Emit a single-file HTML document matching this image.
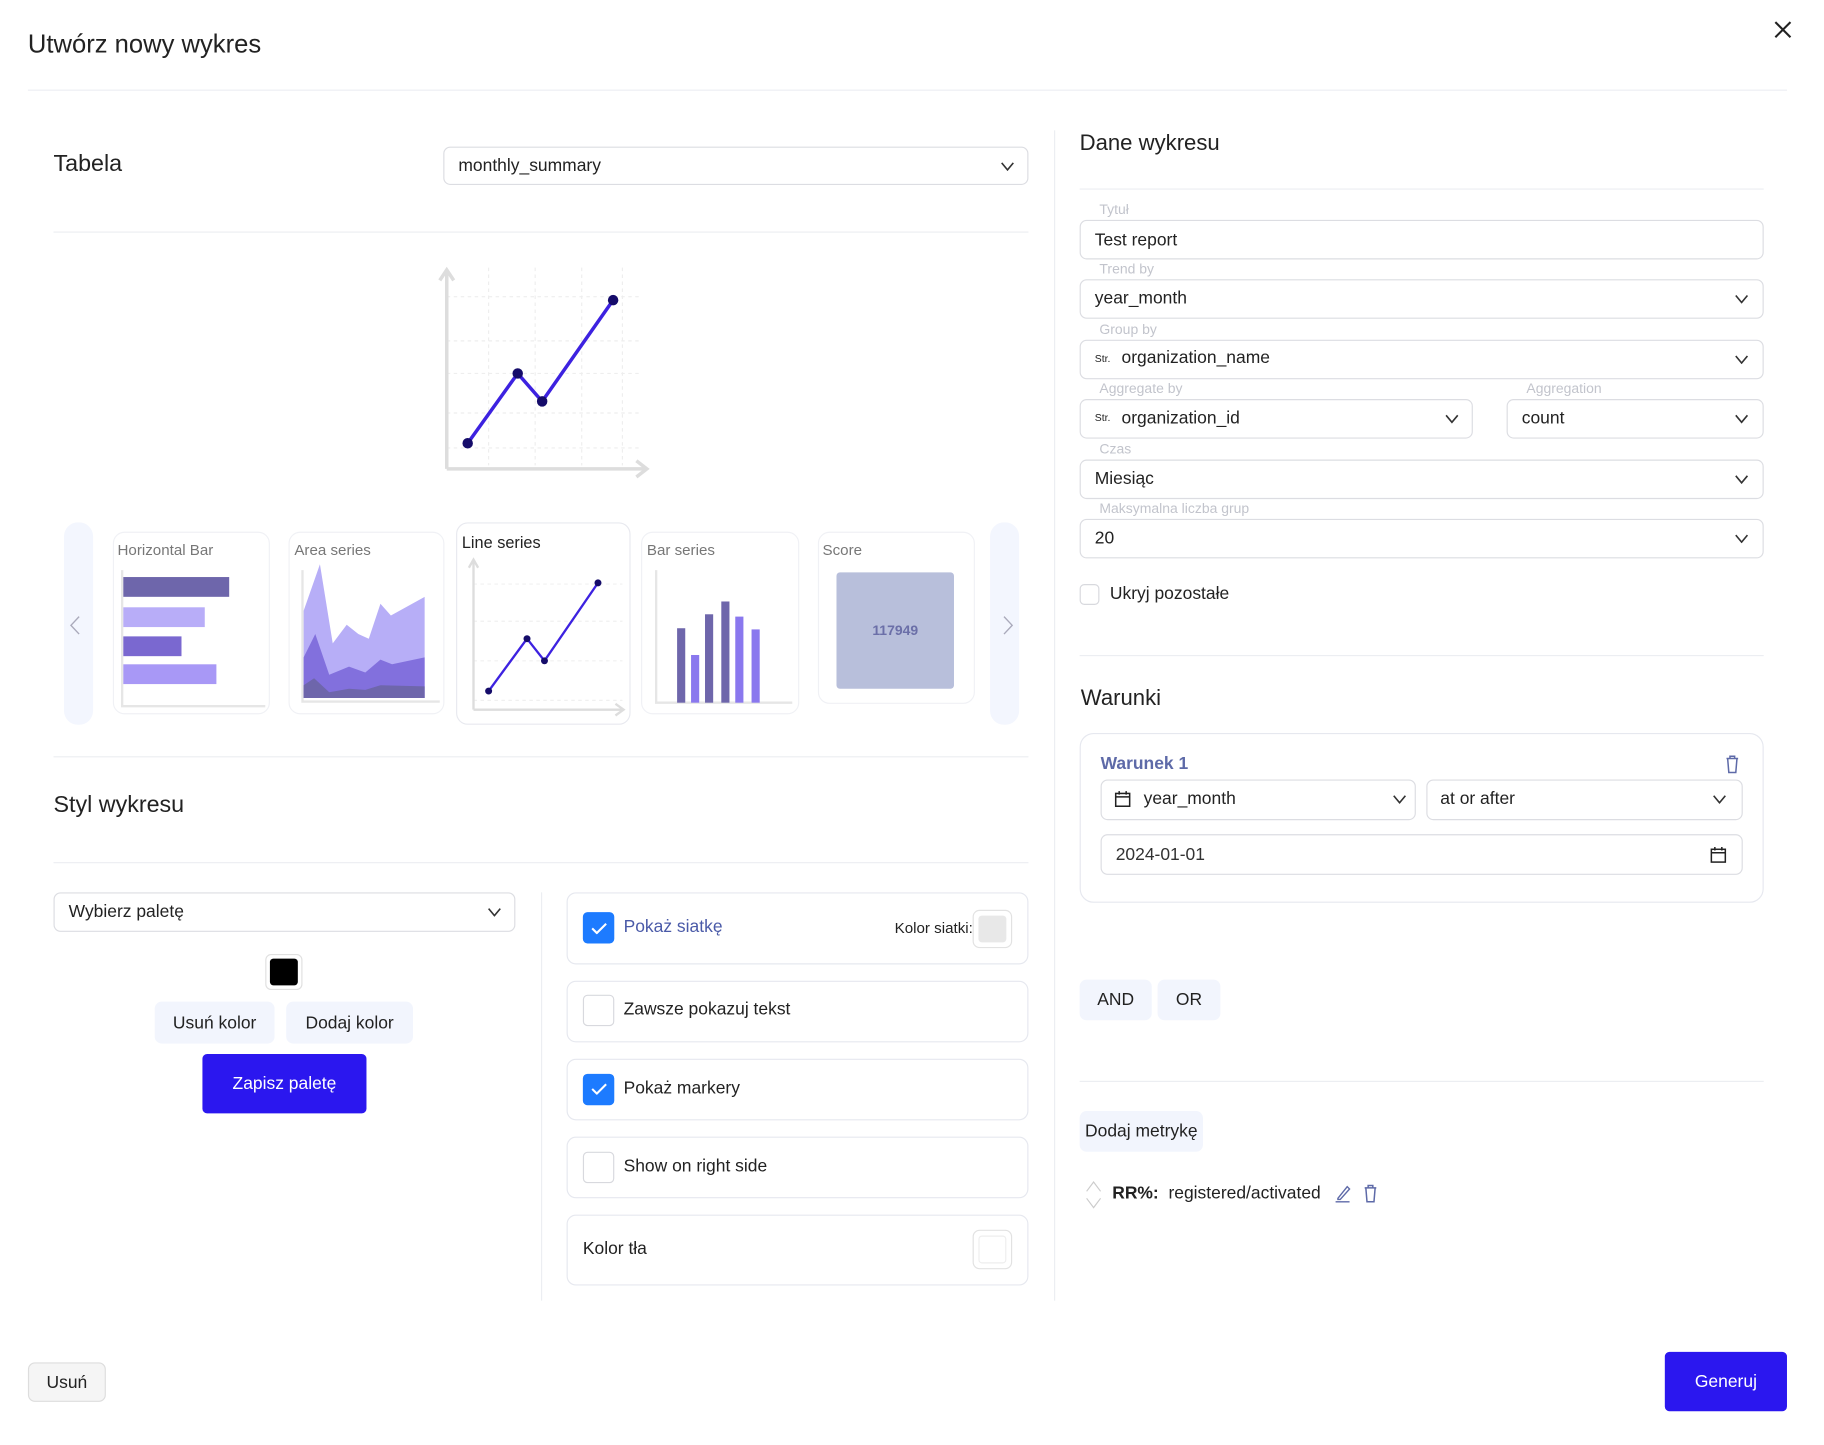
<!DOCTYPE html>
<html><head><meta charset="utf-8">
<style>
*{box-sizing:border-box;margin:0;padding:0}
html,body{width:1824px;height:1444px;overflow:hidden;background:#fff}
#s{position:absolute;left:0;top:0;width:1570px;height:1242px;transform:scale(1.1634);transform-origin:0 0;font-family:"Liberation Sans",sans-serif;color:#222}
.a{position:absolute}
.hr{position:absolute;height:1px;background:#eceef2}
.box{position:absolute;border:1px solid #dcdde2;border-radius:6px;background:#fff}
.t{position:absolute;white-space:nowrap}
.lbl{position:absolute;font-size:12px;color:#c2c4cc}
.fv{position:absolute;font-size:15px;color:#222;white-space:nowrap}
.chev{position:absolute;width:12px;height:8px}
.card{position:absolute;border:1px solid #f0f1f5;border-radius:10px;background:#fff}
.ob{position:absolute;left:487px;width:397px;border:1px solid #e6e8ef;border-radius:8px}
.cb{position:absolute;width:27px;height:27px;border-radius:4px;border:1px solid #d8d9de;background:#fff}
.cb.on{background:#1d7bff;border-color:#1d7bff}
.btn{position:absolute;border-radius:6px;background:#f2f5fd;font-size:15px;display:flex;align-items:center;justify-content:center;color:#222}
</style></head><body><div id="s">
<svg width="0" height="0" style="position:absolute"><defs><symbol id="cv" viewBox="0 0 12 8"><polyline points="1,1 6,7 11,1" fill="none" stroke="#333" stroke-width="1.4"/></symbol></defs></svg>

<div class="t" style="left:24px;top:25px;font-size:22px;color:#222">Utwórz nowy wykres</div>
<svg class="a" style="left:1525px;top:18px" width="15" height="15"><path d="M1 1L14 14M14 1L1 14" stroke="#222" stroke-width="1.8"/></svg>
<div class="hr" style="left:24px;top:77px;width:1512px"></div>

<div class="t" style="left:46px;top:130px;font-size:20px">Tabela</div>
<div class="box" style="left:381px;top:126px;width:503px;height:33px"></div>
<div class="fv" style="left:394px;top:134px">monthly_summary</div>
<svg class="chev" style="left:860px;top:139px"><use href="#cv"/></svg>
<div class="hr" style="left:46px;top:199px;width:838px"></div>

<svg class="a" style="left:370px;top:225px" width="200" height="190">
<g stroke="#eee" stroke-dasharray="3,3">
<line x1="14" y1="30" x2="180" y2="30"/><line x1="14" y1="68" x2="180" y2="68"/><line x1="14" y1="96" x2="180" y2="96"/><line x1="14" y1="130" x2="180" y2="130"/><line x1="14" y1="160" x2="180" y2="160"/>
<line x1="50" y1="5" x2="50" y2="175"/><line x1="90" y1="5" x2="90" y2="175"/><line x1="130" y1="5" x2="130" y2="175"/><line x1="165" y1="5" x2="165" y2="175"/>
</g>
<path d="M14 178V8M8 16L14 7L20 16M14 178H185M177 171L186 178L177 185" stroke="#ddd" stroke-width="3" fill="none"/>
<polyline points="32,156 75,96 96,120 157,33" fill="none" stroke="#3d22e0" stroke-width="3"/>
<g fill="#150c6a"><circle cx="32" cy="156" r="4.5"/><circle cx="75" cy="96" r="4.5"/><circle cx="96" cy="120" r="4.5"/><circle cx="157" cy="33" r="4.5"/></g>
</svg>

<div class="a" style="left:55px;top:449px;width:25px;height:174px;border-radius:12px;background:#f3f6fe"></div>
<svg class="a" style="left:58px;top:529px" width="12" height="17"><polyline points="10,1 3,8.5 10,16" fill="none" stroke="#aab" stroke-width="1.2"/></svg>
<div class="a" style="left:851px;top:449px;width:25px;height:174px;border-radius:12px;background:#f3f6fe"></div>
<svg class="a" style="left:861px;top:529px" width="12" height="17"><polyline points="2,1 9,8.5 2,16" fill="none" stroke="#aab" stroke-width="1.2"/></svg>

<div class="card" style="left:97px;top:457px;width:135px;height:157px"></div>
<div class="t" style="left:101px;top:465px;font-size:13px;color:#777">Horizontal Bar</div>
<svg class="a" style="left:100px;top:485px" width="130" height="125">
<path d="M5 5V122H128" stroke="#e6e6e6" stroke-width="2" fill="none"/>
<rect x="6" y="11" width="91" height="17" fill="#6e66ab"/><rect x="6" y="37" width="70" height="17" fill="#b8adf8"/><rect x="6" y="62" width="50" height="17" fill="#7a68d0"/><rect x="6" y="86" width="80" height="17" fill="#a898f6"/>
</svg>

<div class="card" style="left:248px;top:457px;width:134px;height:157px"></div>
<div class="t" style="left:253px;top:465px;font-size:13px;color:#777">Area series</div>
<svg class="a" style="left:250px;top:485px" width="132" height="125">
<path d="M10 5V118H128" stroke="#e6e6e6" stroke-width="2" fill="none"/>
<path d="M11 40L25 0L36 68L48 52L58 60L67 64L77 34L86 44L115 28V115H11Z" fill="#b7aef7"/>
<path d="M11 80L21 60L33 95L50 88L64 93L77 82L87 86L115 80V115H11Z" fill="#8270dd"/>
<path d="M11 104L20 98L33 110L50 107L64 108L77 104L115 105V115H11Z" fill="#6e66ab"/>
</svg>

<div class="card" style="left:392px;top:449px;width:150px;height:174px;border-color:#e8e9ef"></div>
<div class="t" style="left:397px;top:458px;font-size:14px;color:#222">Line series</div>
<svg class="a" style="left:395px;top:478px" width="145" height="140">
<g stroke="#f0f0f0" stroke-dasharray="3,3"><line x1="12" y1="24" x2="140" y2="24"/><line x1="12" y1="56" x2="140" y2="56"/><line x1="12" y1="90" x2="140" y2="90"/><line x1="12" y1="124" x2="140" y2="124"/></g>
<path d="M12 132V4M8 10L12 3L16 10M12 132H140M134 127L141 132L134 137" stroke="#ddd" stroke-width="2" fill="none"/>
<polyline points="25,116 58,71 73,90 119,23" fill="none" stroke="#3d22e0" stroke-width="2"/>
<g fill="#150c6a"><circle cx="25" cy="116" r="3"/><circle cx="58" cy="71" r="3"/><circle cx="73" cy="90" r="3"/><circle cx="119" cy="23" r="3"/></g>
</svg>

<div class="card" style="left:551px;top:457px;width:136px;height:157px"></div>
<div class="t" style="left:556px;top:465px;font-size:13px;color:#777">Bar series</div>
<svg class="a" style="left:553px;top:485px" width="134" height="125">
<path d="M11 5V119H128" stroke="#e6e6e6" stroke-width="2" fill="none"/>
<rect x="29" y="55" width="7" height="64" fill="#6e66ab"/><rect x="41" y="78" width="7" height="41" fill="#8a78ee"/><rect x="53" y="43" width="7" height="76" fill="#6e66ab"/><rect x="67" y="32" width="7" height="87" fill="#6e66ab"/><rect x="79" y="45" width="7" height="74" fill="#8a78ee"/><rect x="93" y="56" width="7" height="63" fill="#8a78ee"/>
</svg>

<div class="card" style="left:703px;top:457px;width:135px;height:148px"></div>
<div class="t" style="left:707px;top:465px;font-size:13px;color:#777">Score</div>
<div class="a" style="left:719px;top:492px;width:101px;height:100px;background:#b8bfdb;border-radius:3px;display:flex;align-items:center;justify-content:center;font-size:12px;font-weight:bold;color:#6b6fa8">117949</div>

<div class="hr" style="left:46px;top:650px;width:838px"></div>
<div class="t" style="left:46px;top:681px;font-size:20px">Styl wykresu</div>
<div class="hr" style="left:46px;top:741px;width:838px"></div>

<div class="box" style="left:46px;top:767px;width:397px;height:34px"></div>
<div class="fv" style="left:59px;top:775px">Wybierz paletę</div>
<svg class="chev" style="left:419px;top:780px"><use href="#cv"/></svg>
<div class="a" style="left:228px;top:820px;width:32px;height:31px;border:1px solid #e0e0e0;border-radius:5px;padding:3px"><div style="width:100%;height:100%;background:#000;border-radius:3px"></div></div>
<div class="btn" style="left:133px;top:861px;width:103px;height:36px">Usuń kolor</div>
<div class="btn" style="left:246px;top:861px;width:109px;height:36px">Dodaj kolor</div>
<div class="btn" style="left:174px;top:906px;width:141px;height:51px;background:#2b17ef;color:#fff;border-radius:4px">Zapisz paletę</div>

<div class="a" style="left:465px;top:767px;width:1px;height:351px;background:#eceef2"></div>

<div class="ob" style="top:767px;height:62px"></div>
<div class="cb on" style="left:501px;top:784px"></div>
<svg class="a" style="left:508px;top:793px" width="14" height="10"><polyline points="1,5 5,9 13,1" fill="none" stroke="#fff" stroke-width="1.8"/></svg>
<div class="fv" style="left:536px;top:788px;color:#4a5aa8">Pokaż siatkę</div>
<div class="t" style="left:769px;top:790px;font-size:13px">Kolor siatki:</div>
<div class="a" style="left:836px;top:782px;width:34px;height:33px;border:1px solid #e2e2e2;border-radius:6px;padding:4px"><div style="width:100%;height:100%;background:#e8e8e8;border-radius:3px"></div></div>

<div class="ob" style="top:843px;height:53px"></div>
<div class="cb" style="left:501px;top:855px"></div>
<div class="fv" style="left:536px;top:859px">Zawsze pokazuj tekst</div>

<div class="ob" style="top:910px;height:53px"></div>
<div class="cb on" style="left:501px;top:923px"></div>
<svg class="a" style="left:508px;top:931px" width="14" height="10"><polyline points="1,5 5,9 13,1" fill="none" stroke="#fff" stroke-width="1.8"/></svg>
<div class="fv" style="left:536px;top:927px">Pokaż markery</div>

<div class="ob" style="top:977px;height:53px"></div>
<div class="cb" style="left:501px;top:990px"></div>
<div class="fv" style="left:536px;top:994px">Show on right side</div>

<div class="ob" style="top:1044px;height:61px"></div>
<div class="fv" style="left:501px;top:1065px">Kolor tła</div>
<div class="a" style="left:836px;top:1057px;width:34px;height:34px;border:1px solid #e2e2e2;border-radius:6px;padding:4px"><div style="width:100%;height:100%;border:1px solid #eee;border-radius:3px"></div></div>

<div class="a" style="left:906px;top:112px;width:1px;height:1006px;background:#eceef2"></div>

<div class="t" style="left:928px;top:113px;font-size:19px">Dane wykresu</div>
<div class="hr" style="left:928px;top:162px;width:588px"></div>

<div class="lbl" style="left:945px;top:173px">Tytuł</div>
<div class="box" style="left:928px;top:189px;width:588px;height:34px"></div>
<div class="fv" style="left:941px;top:198px">Test report</div>

<div class="lbl" style="left:945px;top:224px">Trend by</div>
<div class="box" style="left:928px;top:240px;width:588px;height:34px"></div>
<div class="fv" style="left:941px;top:248px">year_month</div>
<svg class="chev" style="left:1491px;top:253px"><use href="#cv"/></svg>

<div class="lbl" style="left:945px;top:276px">Group by</div>
<div class="box" style="left:928px;top:292px;width:588px;height:34px"></div>
<div class="t" style="left:941px;top:303px;font-size:9px">Str.</div>
<div class="fv" style="left:964px;top:299px">organization_name</div>
<svg class="chev" style="left:1491px;top:305px"><use href="#cv"/></svg>

<div class="lbl" style="left:945px;top:327px">Aggregate by</div>
<div class="box" style="left:928px;top:343px;width:338px;height:34px"></div>
<div class="t" style="left:941px;top:354px;font-size:9px">Str.</div>
<div class="fv" style="left:964px;top:351px">organization_id</div>
<svg class="chev" style="left:1242px;top:356px"><use href="#cv"/></svg>
<div class="lbl" style="left:1312px;top:327px">Aggregation</div>
<div class="box" style="left:1295px;top:343px;width:221px;height:34px"></div>
<div class="fv" style="left:1308px;top:351px">count</div>
<svg class="chev" style="left:1491px;top:356px"><use href="#cv"/></svg>

<div class="lbl" style="left:945px;top:379px">Czas</div>
<div class="box" style="left:928px;top:395px;width:588px;height:34px"></div>
<div class="fv" style="left:941px;top:403px">Miesiąc</div>
<svg class="chev" style="left:1491px;top:408px"><use href="#cv"/></svg>

<div class="lbl" style="left:945px;top:430px">Maksymalna liczba grup</div>
<div class="box" style="left:928px;top:446px;width:588px;height:34px"></div>
<div class="fv" style="left:941px;top:454px">20</div>
<svg class="chev" style="left:1491px;top:459px"><use href="#cv"/></svg>

<div class="a" style="left:928px;top:502px;width:17px;height:18px;border:1px solid #d8d9de;border-radius:4px"></div>
<div class="fv" style="left:954px;top:502px">Ukryj pozostałe</div>

<div class="hr" style="left:928px;top:563px;width:588px"></div>
<div class="t" style="left:929px;top:590px;font-size:19px">Warunki</div>

<div class="a" style="left:928px;top:630px;width:588px;height:146px;border:1px solid #e6e8ef;border-radius:12px"></div>
<div class="t" style="left:946px;top:648px;font-size:15px;font-weight:bold;color:#5e6aa8">Warunek 1</div>
<svg class="a" style="left:1482px;top:649px" width="14" height="16"><path d="M2 3H12M5 3V1H9V3M3 3L4 15H10L11 3" fill="none" stroke="#5e6aa8" stroke-width="1.3"/></svg>
<div class="box" style="left:946px;top:670px;width:271px;height:35px"></div>
<svg class="a" style="left:958px;top:679px" width="14" height="15"><rect x="1" y="3" width="12" height="11" fill="none" stroke="#222" stroke-width="1.3"/><line x1="1" y1="6" x2="13" y2="6" stroke="#222" stroke-width="1.3"/><path d="M4 1V4M10 1V4" stroke="#222" stroke-width="1.3"/></svg>
<div class="fv" style="left:983px;top:678px">year_month</div>
<svg class="chev" style="left:1197px;top:683px"><use href="#cv"/></svg>
<div class="box" style="left:1226px;top:670px;width:272px;height:35px"></div>
<div class="fv" style="left:1238px;top:678px">at or after</div>
<svg class="chev" style="left:1472px;top:683px"><use href="#cv"/></svg>
<div class="box" style="left:946px;top:717px;width:552px;height:35px"></div>
<div class="fv" style="left:959px;top:726px;color:#333">2024-01-01</div>
<svg class="a" style="left:1470px;top:727px" width="14" height="15"><rect x="1" y="3" width="12" height="11" fill="none" stroke="#222" stroke-width="1.3"/><line x1="1" y1="6" x2="13" y2="6" stroke="#222" stroke-width="1.3"/><path d="M4 1V4M10 1V4" stroke="#222" stroke-width="1.3"/></svg>

<div class="btn" style="left:928px;top:842px;width:62px;height:35px">AND</div>
<div class="btn" style="left:995px;top:842px;width:54px;height:35px">OR</div>

<div class="hr" style="left:928px;top:929px;width:588px"></div>
<div class="btn" style="left:928px;top:955px;width:106px;height:35px">Dodaj metrykę</div>

<svg class="a" style="left:932px;top:1014px" width="16" height="26"><polyline points="2,10 8,2 14,10" fill="none" stroke="#ccc" stroke-width="1"/><polyline points="2,16 8,24 14,16" fill="none" stroke="#ccc" stroke-width="1"/></svg>
<div class="fv" style="left:956px;top:1017px"><b>RR%:</b>&nbsp; registered/activated</div>
<svg class="a" style="left:1147px;top:1018px" width="14" height="16"><path d="M3 12L11 2L13 4L5 13H3Z" fill="none" stroke="#5e6aa8" stroke-width="1.2"/><line x1="1" y1="15" x2="13" y2="15" stroke="#5e6aa8" stroke-width="1.2"/></svg>
<svg class="a" style="left:1171px;top:1018px" width="14" height="16"><path d="M2 3H12M5 3V1H9V3M3 3L4 15H10L11 3" fill="none" stroke="#5e6aa8" stroke-width="1.3"/></svg>

<div class="btn" style="left:24px;top:1171px;width:67px;height:34px;background:#f5f5f5;border:1px solid #ddd">Usuń</div>
<div class="btn" style="left:1431px;top:1162px;width:105px;height:51px;background:#2b17ef;color:#fff;border-radius:4px">Generuj</div>
</div></body></html>
